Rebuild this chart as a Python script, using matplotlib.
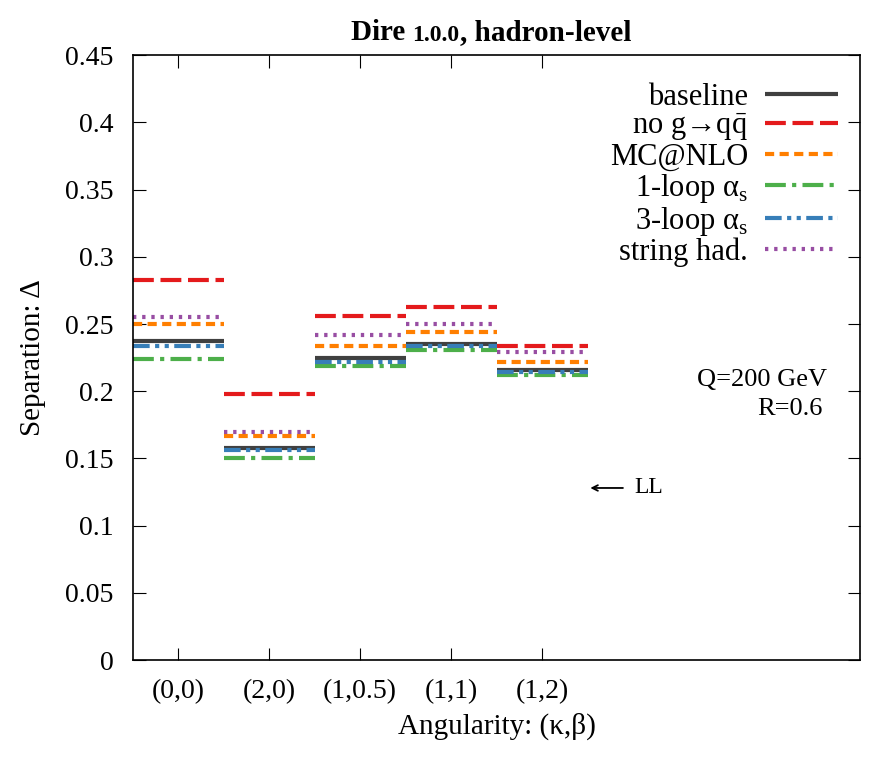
import matplotlib.pyplot as plt

plt.rcParams['font.family'] = ['Liberation Serif', 'DejaVu Serif']
plt.rcParams['mathtext.fontset'] = 'custom'
plt.rcParams['mathtext.rm'] = 'Liberation Serif'

# Datos
categories = ['(0,0)', '(2,0)', '(1,0.5)', '(1,1)', '(1,2)']
labels = ['baseline', r'no g→q$\bar{\rm q}$', 'MC@NLO',
          r'1-loop α$_{\rm s}$', r'3-loop α$_{\rm s}$', 'string had.']
baseline = [0.237, 0.158, 0.225, 0.235, 0.216]
no_gqq = [0.283, 0.198, 0.256, 0.263, 0.234]
mcatnlo = [0.250, 0.167, 0.234, 0.244, 0.222]
loop1 = [0.224, 0.150, 0.219, 0.231, 0.212]
loop3 = [0.234, 0.156, 0.222, 0.234, 0.214]
string_had = [0.255, 0.170, 0.242, 0.250, 0.229]

series = [baseline, no_gqq, mcatnlo, loop1, loop3, string_had]
colors = ['#404040', '#e41a1c', '#ff7f00', '#4daf4a', '#377eb8', '#984ea3']
styles = ['-', (0, (5, 1.6)), (0, (2.2, 1.3)), (0, (5, 1.5, 1, 1.5)),
          (0, (4, 1.3, 1, 1.3, 1, 1.3)), (0, (0.8, 1.4))]

fig = plt.figure(figsize=(8.86, 7.67), dpi=100)
ax = fig.add_axes([0.150, 0.1395, 0.821, 0.7885])

centers = [i + 0.5 for i in range(len(categories))]
for vals, lab, c, ls in zip(series, labels, colors, styles):
    ax.hlines(vals, [x - 0.5 for x in centers], [x + 0.5 for x in centers],
              colors=c, linestyles=[ls], linewidth=3, label=lab)

ax.set_xlim(0, 8)
ax.set_ylim(0, 0.45)
ax.set_xticks(centers)
ax.set_xticklabels(categories)
ax.set_yticks([i * 0.05 for i in range(10)])
ax.set_yticklabels(['0', '0.05', '0.1', '0.15', '0.2', '0.25', '0.3', '0.35', '0.4', '0.45'])
ax.tick_params(direction='in', top=True, right=True, labelsize=20, length=9, pad=14)
for sp in ax.spines.values():
    sp.set_linewidth(1.2)

ax.set_xlabel('Angularity: (κ,β)', fontsize=21, labelpad=6)
ax.set_ylabel('Separation: Δ', fontsize=21, labelpad=14)

# Titulo en tres partes
t1 = ax.text(0.300, 1.025, 'Dire ', transform=ax.transAxes, fontsize=21,
             fontweight='bold', ha='left', va='baseline')
t2 = ax.annotate('1.0.0', xy=(1, 0), xycoords=t1, fontsize=17, fontweight='bold',
                 ha='left', va='bottom')
ax.annotate(', hadron-level', xy=(1, 0), xycoords=t2, fontsize=21, fontweight='bold',
            ha='left', va='bottom')

# Anotaciones
ax.text(7.63, 0.208, 'Q=200 GeV', ha='right', va='center', fontsize=19)
ax.text(7.58, 0.187, 'R=0.6', ha='right', va='center', fontsize=19)
ax.annotate('', xy=(5.0, 0.128), xytext=(5.42, 0.128),
            arrowprops=dict(arrowstyle='->', lw=1.3, color='black'))
ax.text(5.52, 0.128, 'LL', ha='left', va='center', fontsize=17)

leg = ax.legend(loc='upper right', bbox_to_anchor=(0.995, 0.985), frameon=False,
                markerfirst=False, fontsize=22, handlelength=2.4,
                labelspacing=0.0, handletextpad=0.55, borderaxespad=0.2)
for t in leg.get_texts():
    t.set_ha('right')

fig.savefig('out.png', dpi=100)
